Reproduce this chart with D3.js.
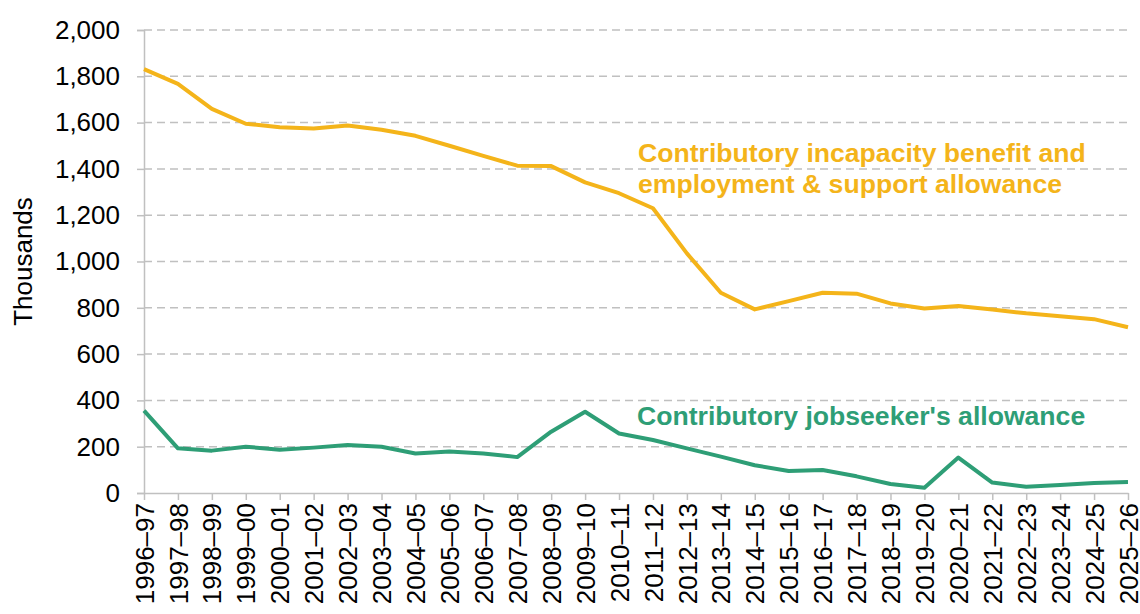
<!DOCTYPE html>
<html>
<head>
<meta charset="utf-8">
<script src="https://cdn.jsdelivr.net/npm/d3@7"></script>
<style>
  body { margin: 0; background: #fff; }
  text { font-family: "Liberation Sans", Arial, sans-serif; }
</style>
</head>
<body>
<script>
var years = ["1996–97","1997–98","1998–99","1999–00","2000–01","2001–02","2002–03","2003–04",
  "2004–05","2005–06","2006–07","2007–08","2008–09","2009–10","2010–11","2011–12","2012–13",
  "2013–14","2014–15","2015–16","2016–17","2017–18","2018–19","2019–20","2020–21","2021–22",
  "2022–23","2023–24","2024–25","2025–26"];

// contributory incapacity benefit + ESA (thousands)
var esa = [1831, 1767, 1659, 1595, 1580, 1575, 1587, 1569, 1543, 1500, 1456, 1414,
  1412, 1342, 1295, 1230, 1035, 865, 793, 829, 865, 861, 819, 797, 808, 793,
  776, 764, 751, 716];

// contributory JSA (thousands)
var jsa = [356, 193, 183, 200, 187, 196, 207, 200, 171, 179, 171, 155,
  265, 351, 257, 229, 193, 157, 120, 95, 99, 72, 39, 23, 153, 45,
  27, 35, 43, 47];

var yTicks = [0, 200, 400, 600, 800, 1000, 1200, 1400, 1600, 1800, 2000];

var W = 1140, H = 614;
var margin = {left: 144, right: 12, top: 30, bottom: 121};

var svg = d3.select("body").append("svg").attr("width", W).attr("height", H);

var x = d3.scalePoint().domain(years).range([margin.left, W - margin.right]).padding(0);
var y = d3.scaleLinear().domain([0, 2000]).range([H - margin.bottom, margin.top]);

// gridlines
svg.append("g").selectAll("line").data(yTicks.filter(function(d) { return d > 0; }))
  .enter().append("line")
  .attr("x1", margin.left).attr("x2", W - margin.right)
  .attr("y1", function(d) { return y(d); }).attr("y2", function(d) { return y(d); })
  .attr("stroke", "#c0c0c0").attr("stroke-width", 1.5)
  .attr("stroke-dasharray", "8,5");

// y axis
var yAxis = svg.append("g").attr("transform", "translate(" + margin.left + ",0)")
  .call(d3.axisLeft(y).tickValues(yTicks).tickSize(7).tickPadding(17)
    .tickFormat(d3.format(",")));
yAxis.select(".domain").attr("stroke", "#c0c0c0").attr("stroke-width", 1.5);
yAxis.selectAll(".tick line").attr("stroke", "#c0c0c0").attr("stroke-width", 1.5);
yAxis.selectAll(".tick text").style("font-size", "26px").attr("fill", "#000");

// x axis
var xAxis = svg.append("g").attr("transform", "translate(0," + y(0) + ")")
  .call(d3.axisBottom(x).tickSize(7).tickSizeOuter(0).tickPadding(10));
xAxis.select(".domain").attr("stroke", "#c0c0c0").attr("stroke-width", 1.5);
xAxis.selectAll(".tick line").attr("stroke", "#c0c0c0").attr("stroke-width", 1.5);
xAxis.selectAll(".tick text")
  .style("font-size", "26px").attr("fill", "#000")
  .attr("transform", "rotate(-90)")
  .attr("text-anchor", "end")
  .attr("x", -10).attr("y", 0).attr("dy", "0.35em");

// y title
svg.append("text")
  .attr("transform", "translate(32," + ((margin.top + y(0)) / 2) + ") rotate(-90)")
  .attr("text-anchor", "middle")
  .style("font-size", "26px")
  .text("Thousands");

var line = d3.line()
  .x(function(d, i) { return x(years[i]); })
  .y(function(d) { return y(d); });

svg.append("path").datum(esa)
  .attr("d", line).attr("fill", "none")
  .attr("stroke", "#F4B41A").attr("stroke-width", 4)
  .attr("stroke-linejoin", "round");

svg.append("path").datum(jsa)
  .attr("d", line).attr("fill", "none")
  .attr("stroke", "#2E9E76").attr("stroke-width", 4)
  .attr("stroke-linejoin", "round");

// labels
var lab = svg.append("text")
  .attr("x", 638).attr("y", 162)
  .attr("fill", "#F4B41A")
  .style("font-size", "26.6px").style("font-weight", "bold");
lab.append("tspan").attr("x", 638).text("Contributory incapacity benefit and");
lab.append("tspan").attr("x", 638).attr("dy", 31).text("employment & support allowance");

svg.append("text")
  .attr("x", 637).attr("y", 425)
  .attr("fill", "#2E9E76")
  .style("font-size", "26.6px").style("font-weight", "bold")
  .text("Contributory jobseeker's allowance");
</script>
</body>
</html>
